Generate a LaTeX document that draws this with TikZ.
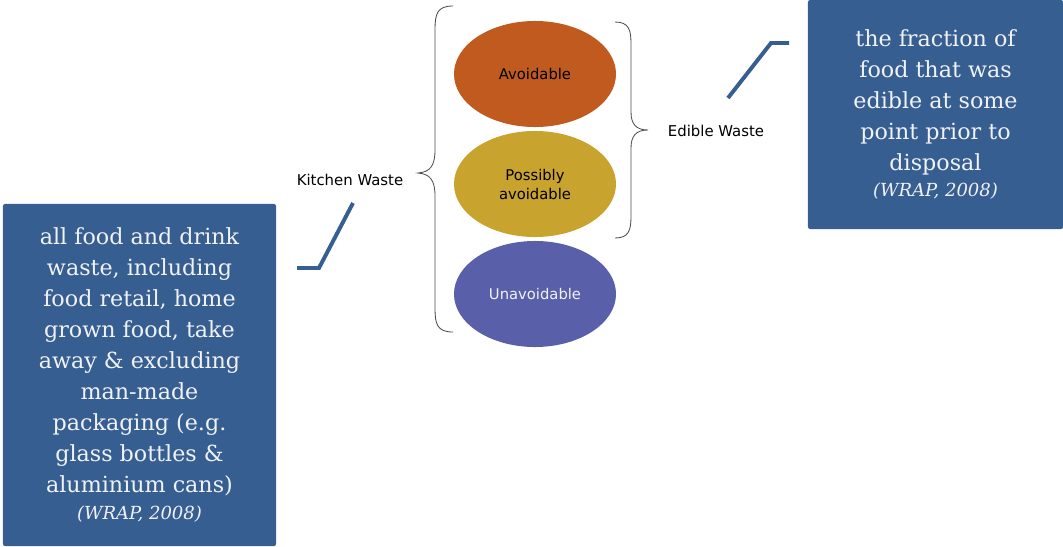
\documentclass[tikz,border=0pt]{standalone}
\usepackage{fontspec}
\setmainfont{DejaVu Serif}
\setsansfont{DejaVu Sans}
\usetikzlibrary{shapes.geometric, positioning}

\definecolor{noteblue}{RGB}{55,94,145}
\definecolor{notetext}{RGB}{240,242,246}
\definecolor{avoidcol}{RGB}{192,90,30}
\definecolor{possiblecol}{RGB}{200,163,46}
\definecolor{unavoidcol}{RGB}{90,95,170}

\newcommand{\wrapsource}{{\itshape\fontsize{12.8}{15}\selectfont (WRAP, 2008)}}

\begin{document}
\begin{tikzpicture}[
    x=0.025cm, y=-0.025cm,
    note/.style={
        rectangle, rounded corners=1.5pt, fill=noteblue,
        text=notetext, align=center, inner sep=0pt,
        font=\fontsize{15.8}{22}\selectfont,
    },
    portion/.style={
        ellipse, minimum width=4.05cm, minimum height=2.65cm,
        inner sep=0pt, align=center,
        font=\sffamily\fontsize{10.5}{13.5}\selectfont,
    },
    label/.style={
        font=\sffamily\fontsize{10.6}{13}\selectfont, text=black,
    },
    pointer/.style={
        draw=noteblue, line width=2.8pt,
    },
    brace/.style={
        draw=black!70, line width=0.6pt,
    },
]
\useasboundingbox (0,0) rectangle (1063,546);

% --- Waste portions ---
\node[portion, fill=avoidcol] (avoid) at (535,74) {Avoidable};
\node[portion, fill=possiblecol] (possible) at (535,184) {Possibly\\avoidable};
\node[portion, fill=unavoidcol, text=notetext] (unavoid) at (535,294) {Unavoidable};

% --- Braces ---
% kitchen waste: all three
\draw[brace] (453,6) .. controls (437,6) and (435,14) .. (435,30)
    -- (435,150) .. controls (435,166) and (430,172) .. (418,173)
    .. controls (430,174) and (435,180) .. (435,196)
    -- (435,308) .. controls (435,324) and (437,332) .. (453,332);
% edible waste: first two
\draw[brace] (615,22) .. controls (629,22) and (631,30) .. (631,44)
    -- (631,112) .. controls (631,124) and (636,130) .. (648,130)
    .. controls (636,130) and (631,136) .. (631,148)
    -- (631,216) .. controls (631,230) and (629,238) .. (615,238);

% --- Labels ---
\node[label] (kitchen) at (350,180) {Kitchen Waste};
\node[label] (edible) at (716,131) {Edible Waste};

% --- Definition notes ---
\node[note, minimum width=6.825cm, minimum height=8.55cm] (kitchennote) at (139.5,375)
    {all food and drink\\waste, including\\food retail, home\\grown food, take\\away \& excluding\\man-made\\packaging (e.g.\\glass bottles \&\\aluminium cans)\\[-3pt]
    \wrapsource};
\node[note, minimum width=6.375cm, minimum height=5.725cm] (ediblenote) at (935.5,114.5)
    {the fraction of\\food that was\\edible at some\\point prior to\\disposal\\[-3pt]
    \wrapsource};

% --- Pointers ---
\coordinate (kw-foot) at (297,268);
\coordinate (kw-bend) at (319,268);
\coordinate (kw-top) at (353,203);
\draw[pointer] (kw-foot) -- (kw-bend) -- (kw-top);

\coordinate (ew-foot) at (728,98);
\coordinate (ew-bend) at (771,43);
\coordinate (ew-end) at (789,43);
\draw[pointer] (ew-foot) -- (ew-bend) -- (ew-end);

\end{tikzpicture}
\end{document}
